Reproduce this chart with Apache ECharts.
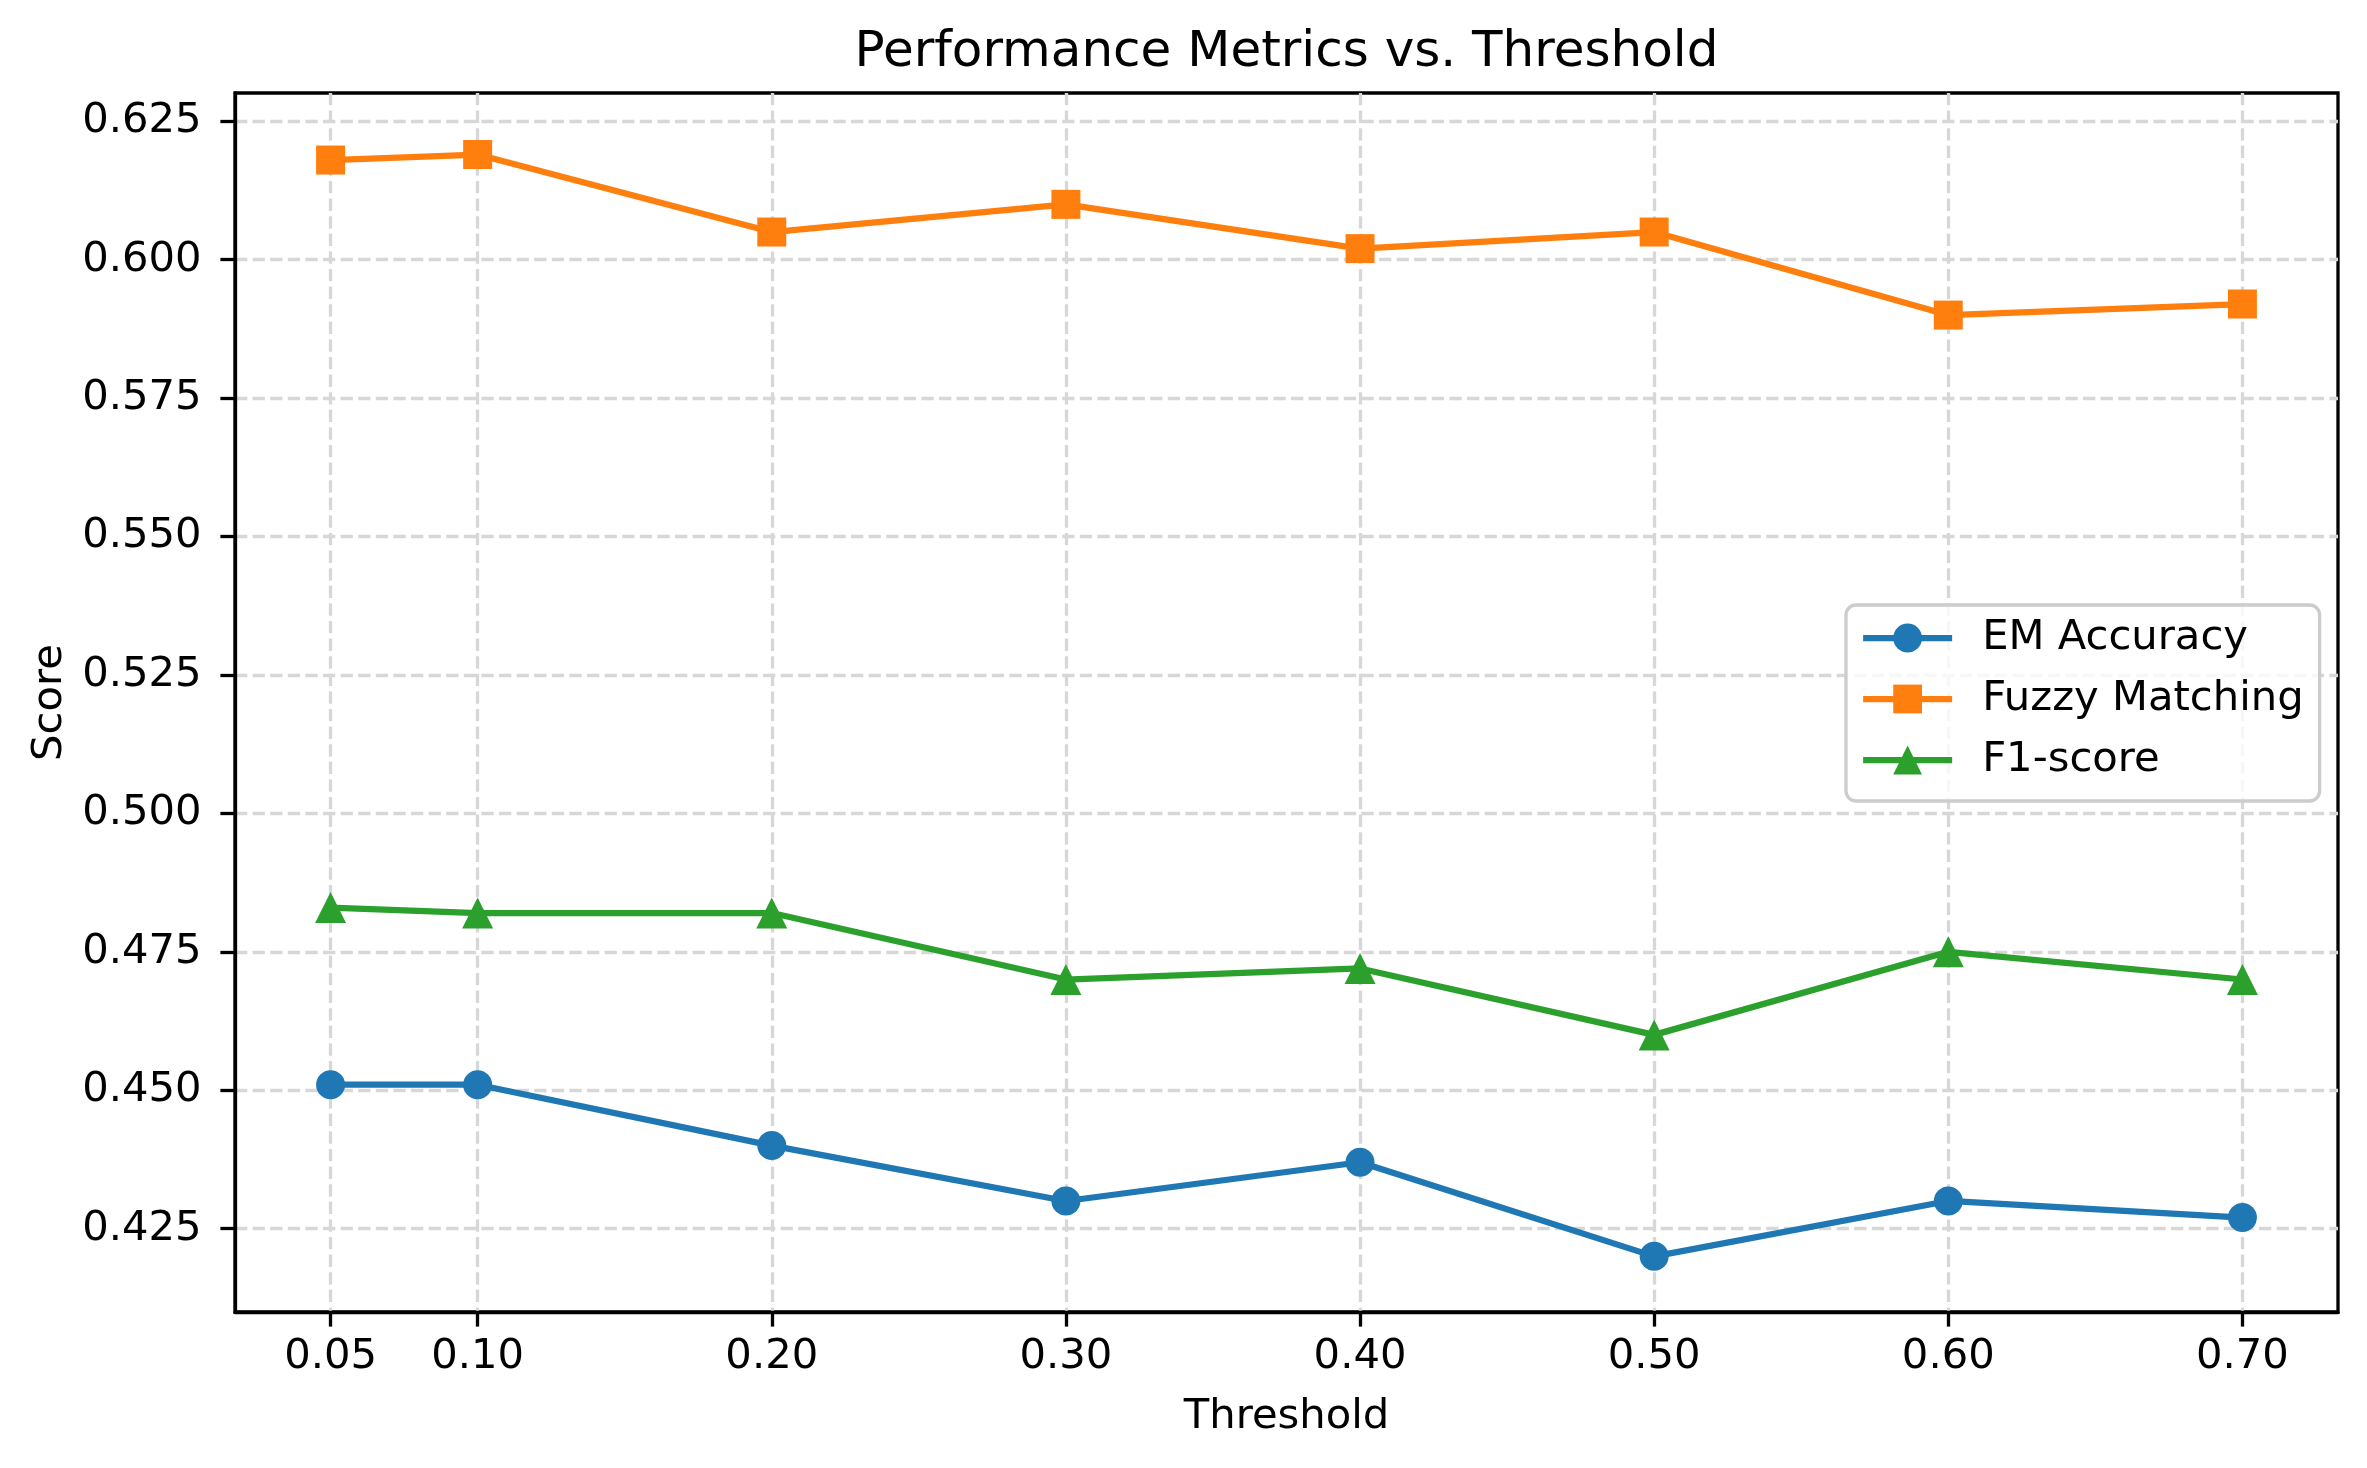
<!DOCTYPE html>
<html>
<head>
<meta charset="utf-8">
<script src="https://cdn.jsdelivr.net/npm/echarts@6/dist/echarts.min.js"></script>
<style>
html,body{margin:0;padding:0;background:#fff;}
#chart{width:2367px;height:1468px;}
</style>
</head>
<body>
<div id="chart"></div>
<script>
const thresholds = [0.05, 0.10, 0.20, 0.30, 0.40, 0.50, 0.60, 0.70];
const emAccuracy = [0.451, 0.451, 0.440, 0.430, 0.437, 0.420, 0.430, 0.427];
const fuzzyMatching = [0.618, 0.619, 0.605, 0.610, 0.602, 0.605, 0.590, 0.592];
const f1Score = [0.483, 0.482, 0.482, 0.470, 0.472, 0.460, 0.475, 0.470];
const xTicks = [0.05, 0.10, 0.20, 0.30, 0.40, 0.50, 0.60, 0.70];
const yTicks = [0.425, 0.450, 0.475, 0.500, 0.525, 0.550, 0.575, 0.600, 0.625];
const seriesNames = ['EM Accuracy', 'Fuzzy Matching', 'F1-score'];
const colors = ['#1f77b4', '#ff7f0e', '#2ca02c'];

const FONT = 'DejaVu Sans';
const gridLine = { color: '#d7d7d7', width: 3.3, type: [12.3, 5.3] };
const tickStyle = { color: '#000', width: 3.3 };

const chart = echarts.init(document.getElementById('chart'), null, { renderer: 'canvas' });

function pts(vals) { return thresholds.map((x, i) => [x, vals[i]]); }

const option = {
  animation: false,
  backgroundColor: '#fff',
  graphic: [{
    type: 'text', x: 1286.5, y: 53, z: 10,
    style: { text: 'Performance Metrics vs. Threshold', font: '50px "DejaVu Sans"', fill: '#000', textAlign: 'center', textVerticalAlign: 'middle', verticalAlign: 'middle' }
  }],
  grid: { left: 235, top: 93, width: 2103, height: 1219, show: true, borderColor: '#000', borderWidth: 3.3, backgroundColor: 'transparent', containLabel: false, outerBoundsMode: 'none' },
  legend: {
    orient: 'vertical', left: 1846, top: 605,
    padding: [9, 16, 17, 14],
    itemWidth: 89, itemHeight: 36, itemGap: 13,
    backgroundColor: 'rgba(255,255,255,0.8)', borderColor: '#cccccc', borderWidth: 3.3, borderRadius: 10,
    lineStyle: { width: 6.25 },
    textStyle: { fontFamily: FONT, fontSize: 41.7, color: '#000', lineHeight: 48, padding: [0, 0, 0, 25] },
    data: seriesNames
  },
  xAxis: {
    type: 'value', min: 0.0175, max: 0.7325,
    name: 'Threshold', nameLocation: 'middle', nameGap: 84,
    nameTextStyle: { fontFamily: FONT, fontSize: 41.7, color: '#000' },
    axisLine: { show: true, onZero: false, lineStyle: { color: '#000', width: 3.3 } },
    axisTick: { show: true, inside: false, length: 14.6, lineStyle: tickStyle, customValues: xTicks },
    axisLabel: { show: true, margin: 24, fontFamily: FONT, fontSize: 41.7, color: '#000', customValues: xTicks, formatter: v => Number(v).toFixed(2), showMinLabel: true, showMaxLabel: true },
    splitLine: { show: true, lineStyle: gridLine }
  },
  yAxis: {
    type: 'value', min: 0.40995, max: 0.63011,
    name: 'Score', nameLocation: 'middle', nameGap: 164, nameRotate: 90,
    nameTextStyle: { fontFamily: FONT, fontSize: 41.7, color: '#000' },
    axisLine: { show: true, onZero: false, lineStyle: { color: '#000', width: 3.3 } },
    axisTick: { show: true, inside: false, length: 14.6, lineStyle: tickStyle, customValues: yTicks },
    axisLabel: { show: true, margin: 33.5, fontFamily: FONT, fontSize: 41.7, color: '#000', customValues: yTicks, formatter: v => Number(v).toFixed(3) },
    splitLine: { show: true, lineStyle: gridLine }
  },
  series: [
    { name: seriesNames[0], type: 'line', data: pts(emAccuracy), symbol: 'circle', symbolSize: 29, color: colors[0],
      lineStyle: { width: 6.25, color: colors[0] }, itemStyle: { color: colors[0] }, z: 2 },
    { name: seriesNames[1], type: 'line', data: pts(fuzzyMatching), symbol: 'rect', symbolSize: 29, color: colors[1],
      lineStyle: { width: 6.25, color: colors[1] }, itemStyle: { color: colors[1] }, z: 3 },
    { name: seriesNames[2], type: 'line', data: pts(f1Score), symbol: 'triangle', symbolSize: 31, color: colors[2],
      lineStyle: { width: 6.25, color: colors[2] }, itemStyle: { color: colors[2] }, z: 4 }
  ]
};
chart.setOption(option);
</script>
</body>
</html>
